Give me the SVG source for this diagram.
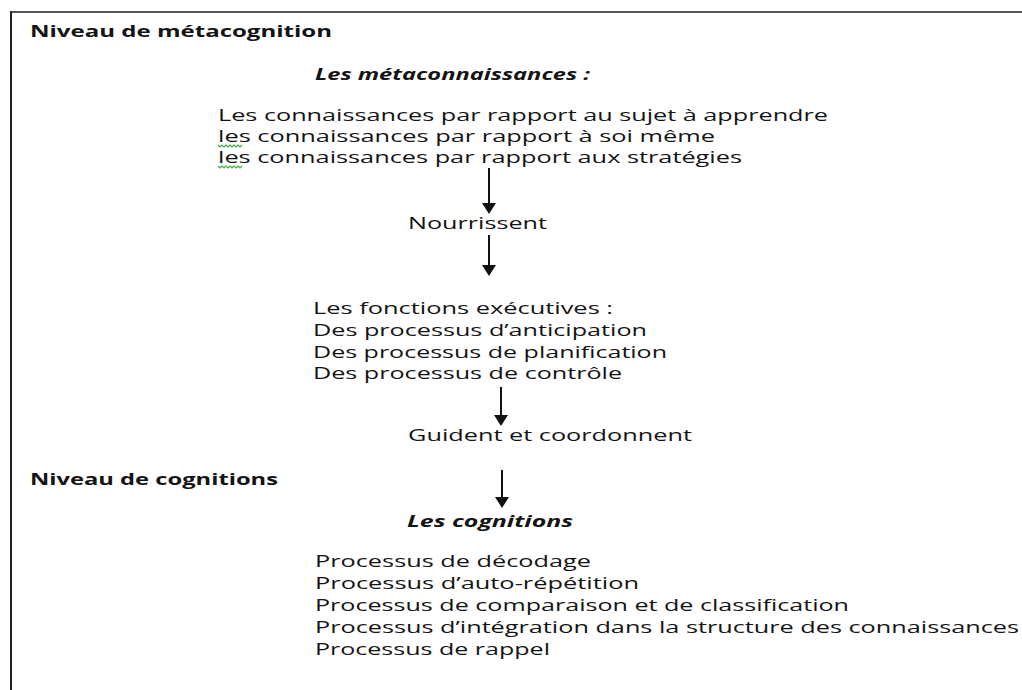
<svg xmlns="http://www.w3.org/2000/svg" width="1022" height="690" viewBox="0 0 1022 690">
<defs>
<style>
text{font-family:"Open Sans","Liberation Sans",sans-serif;font-size:16px;fill:#141414}
.b{font-weight:bold}
.bi{font-weight:bold;font-style:italic}
.arr{stroke:#111;stroke-width:2;fill:none}
.sq{stroke:#3fae3f;stroke-width:1.2;fill:none}
</style>
<marker id="ah" viewBox="0 0 11 14" refX="0" refY="7" markerWidth="11" markerHeight="14" markerUnits="userSpaceOnUse" orient="auto">
<path d="M0,0 L11,7 L0,14 z" fill="#111"/>
</marker>
</defs>
<rect width="1022" height="690" fill="#fff"/>
<g id="frame">
<line x1="10" y1="12" x2="1022" y2="12" stroke="#555" stroke-width="2"/>
<line x1="11" y1="11" x2="11" y2="690" stroke="#222" stroke-width="2"/>
</g>
<g id="niveau-metacognition"><text class="b" x="30" y="37" textLength="302" lengthAdjust="spacingAndGlyphs">Niveau de métacognition</text></g>
<g id="metaconnaissances"><text class="bi" x="315" y="80" textLength="275" lengthAdjust="spacingAndGlyphs">Les métaconnaissances :</text></g>
<g id="connaissances">
<text x="218" y="121" textLength="610" lengthAdjust="spacingAndGlyphs">Les connaissances par rapport au sujet à apprendre</text>
<text x="218" y="142" textLength="497" lengthAdjust="spacingAndGlyphs">les connaissances par rapport à soi même</text>
<text x="218" y="163" textLength="524" lengthAdjust="spacingAndGlyphs">les connaissances par rapport aux stratégies</text>
<path class="sq" d="M218,145 l2,2 l2,-2 l2,2 l2,-2 l2,2 l2,-2 l2,2 l2,-2 l2,2 l2,-2 l2,2 l2,-2"/>
<path class="sq" d="M218,166 l2,2 l2,-2 l2,2 l2,-2 l2,2 l2,-2 l2,2 l2,-2 l2,2 l2,-2 l2,2 l2,-2"/>
</g>
<g id="nourrissent"><text x="408" y="229" textLength="139" lengthAdjust="spacingAndGlyphs">Nourrissent</text></g>
<g id="fonctions-executives">
<text x="313" y="314" textLength="300" lengthAdjust="spacingAndGlyphs">Les fonctions exécutives :</text>
<text x="313" y="336" textLength="334" lengthAdjust="spacingAndGlyphs">Des processus d’anticipation</text>
<text x="313" y="358" textLength="354" lengthAdjust="spacingAndGlyphs">Des processus de planification</text>
<text x="313" y="379" textLength="309" lengthAdjust="spacingAndGlyphs">Des processus de contrôle</text>
</g>
<g id="guident"><text x="408" y="441" textLength="284" lengthAdjust="spacingAndGlyphs">Guident et coordonnent</text></g>
<g id="niveau-cognitions"><text class="b" x="30" y="485" textLength="248" lengthAdjust="spacingAndGlyphs">Niveau de cognitions</text></g>
<g id="cognitions"><text class="bi" x="407" y="527" textLength="166" lengthAdjust="spacingAndGlyphs">Les cognitions</text></g>
<g id="processus">
<text x="315" y="567" textLength="276" lengthAdjust="spacingAndGlyphs">Processus de décodage</text>
<text x="315" y="589" textLength="324" lengthAdjust="spacingAndGlyphs">Processus d’auto-répétition</text>
<text x="315" y="611" textLength="534" lengthAdjust="spacingAndGlyphs">Processus de comparaison et de classification</text>
<text x="315" y="633" textLength="704" lengthAdjust="spacingAndGlyphs">Processus d’intégration dans la structure des connaissances</text>
<text x="315" y="655" textLength="235" lengthAdjust="spacingAndGlyphs">Processus de rappel</text>
</g>
<g id="connectors">
<line class="arr" x1="489" y1="168" x2="489" y2="203" marker-end="url(#ah)"/>
<line class="arr" x1="489" y1="235" x2="489" y2="265" marker-end="url(#ah)"/>
<line class="arr" x1="501" y1="387" x2="501" y2="415" stroke-width="1.5" marker-end="url(#ah)"/>
<line class="arr" x1="502" y1="470" x2="502" y2="497" marker-end="url(#ah)"/>
</g>
</svg>
